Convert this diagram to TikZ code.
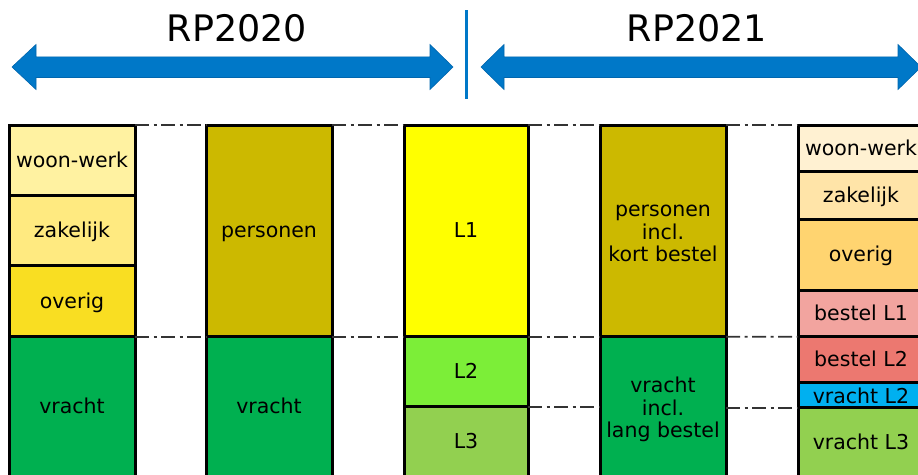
\documentclass[tikz,border=0pt]{standalone}
\usepackage{fontspec}
\setmainfont{DejaVu Sans}
\definecolor{arrowblue}{HTML}{0078C8}
\definecolor{arrowedge}{HTML}{0066AE}
\definecolor{wwA}{HTML}{FFF2A1}
\definecolor{zkA}{HTML}{FFEA80}
\definecolor{ovA}{HTML}{F9DE22}
\definecolor{vrG}{HTML}{00B050}
\definecolor{pers}{HTML}{CCB900}
\definecolor{lone}{HTML}{FFFF00}
\definecolor{ltwo}{HTML}{7CEE38}
\definecolor{lthree}{HTML}{92D050}
\definecolor{wwB}{HTML}{FFF1D2}
\definecolor{zkB}{HTML}{FFE4A8}
\definecolor{ovB}{HTML}{FFD470}
\definecolor{bone}{HTML}{F2A49F}
\definecolor{btwo}{HTML}{EC7870}
\definecolor{vtwo}{HTML}{00B0F0}
\begin{document}
\begin{tikzpicture}[x=1pt,y=-1pt,
  seg/.style={draw=black, line width=3pt, minimum width=126pt, inner sep=0pt,
    outer sep=0pt, anchor=north west, align=center,
    font=\fontsize{20.5}{22.5}\selectfont},
  oneline/.style={text height=19pt, text depth=5pt},
  multi/.style={align=center, inner sep=0pt, font=\fontsize{20.5}{22.5}\selectfont, yshift=-3pt},
  title/.style={font=\fontsize{36.5}{40}\selectfont, anchor=base, inner sep=0pt},
  dashdot/.style={draw=black!80, line width=1.6pt, dash pattern=on 14pt off 4.5pt on 3pt off 4.5pt},
  bigarrow/.style={fill=arrowblue, draw=arrowedge, line width=0.6pt, line join=miter}]
\useasboundingbox (0,0) rectangle (918,474);
\clip (0,0) rectangle (918,474);
\fill[white] (0,0) rectangle (918,474);

% titles
\node[title] (rp20) at (237,41) {RP2020};
\node[title] (rp21) at (697,41) {RP2021};

% arrows
\path[bigarrow] (12,67) -- (36,44.5) -- (36,56.8) -- (430,56.8) -- (430,44.5) -- (453,67)
  -- (430,89.5) -- (430,77.5) -- (36,77.5) -- (36,89.5) -- cycle;
\path[bigarrow] (481,67) -- (504,44.5) -- (504,56.8) -- (898,56.8) -- (898,44.5) -- (921,67)
  -- (898,89.5) -- (898,77.5) -- (504,77.5) -- (504,89.5) -- cycle;
\coordinate (vtop) at (466,10);
\coordinate (vbot) at (466,99);
\draw[arrowblue, line width=3pt] (vtop) -- (vbot);

% column 1
\node[seg, oneline, fill=wwA, minimum height=70pt] (a1) at (9,125) {woon-werk};
\node[seg, oneline, fill=zkA, minimum height=70.7pt] (a2) at (a1.south west) {zakelijk};
\node[seg, oneline, fill=ovA, minimum height=71pt] (a3) at (a2.south west) {overig};
\node[seg, oneline, fill=vrG, minimum height=140pt] (a4) at (a3.south west) {vracht};

% column 2
\node[seg, oneline, fill=pers, minimum height=211.7pt] (b1) at (206,125) {personen};
\node[seg, oneline, fill=vrG, minimum height=140pt] (b2) at (b1.south west) {vracht};

% column 3
\node[seg, oneline, fill=lone, minimum height=211.7pt, minimum width=124pt] (c1) at (404,125) {L1};
\node[seg, oneline, fill=ltwo, minimum height=70pt, minimum width=124pt] (c2) at (c1.south west) {L2};
\node[seg, oneline, fill=lthree, minimum height=70pt, minimum width=124pt] (c3) at (c2.south west) {L3};

% column 4
\node[seg, fill=pers, minimum height=211.7pt] (d1) at (600,125) {};
\node[multi] (d1t) at (d1.center) {personen\\incl.\\kort bestel};
\node[seg, fill=vrG, minimum height=140pt] (d2) at (d1.south west) {};
\node[multi] (d2t) at (d2.center) {vracht\\incl.\\lang bestel};

% column 5
\node[seg, oneline, fill=wwB, minimum height=46pt] (e1) at (798,125) {woon-werk};
\node[seg, oneline, fill=zkB, minimum height=48.3pt] (e2) at (e1.south west) {zakelijk};
\node[seg, oneline, fill=ovB, minimum height=70.7pt] (e3) at (e2.south west) {overig};
\node[seg, oneline, fill=bone, minimum height=46.7pt] (e4) at (e3.south west) {bestel L1};
\node[seg, oneline, fill=btwo, minimum height=46pt] (e5) at (e4.south west) {bestel L2};
\node[seg, fill=vtwo, minimum height=24.3pt, text height=21pt, text depth=4pt] (e6) at (e5.south west) {vracht L2};
\node[seg, oneline, fill=lthree, minimum height=70pt] (e7) at (e6.south west) {vracht L3};

% dash-dot guide lines
\draw[dashdot] (a1.north east) -- (b1.north west);
\draw[dashdot] (b1.north east) -- (c1.north west);
\draw[dashdot] (c1.north east) -- (d1.north west);
\draw[dashdot] (d1.north east) -- (e1.north west);
\draw[dashdot] (a4.north east) -- (b2.north west);
\draw[dashdot] (b2.north east) -- (c2.north west);
\draw[dashdot] (c2.north east) -- (d2.north west);
\draw[dashdot] (d2.north east) -- (e5.north west);
\draw[dashdot] (c3.north east) -- (c3.north east -| d2.west);
\draw[dashdot] (d2.east |- e7.north) -- (e7.north west);
\end{tikzpicture}
\end{document}
